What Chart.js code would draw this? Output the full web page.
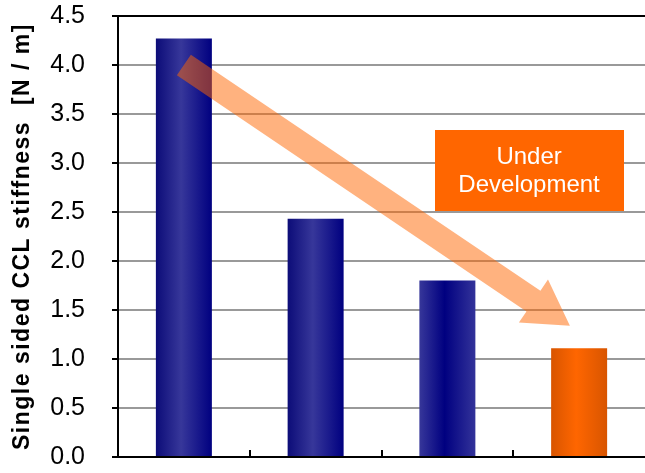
<!DOCTYPE html>
<html>
<head>
<meta charset="utf-8">
<script src="https://cdn.jsdelivr.net/npm/chart.js@4/dist/chart.umd.min.js"></script>
<style>
    html, body { margin: 0; padding: 0; background: #fff; }
    #wrap { width: 645px; height: 473px; }
</style>
</head>
<body>
<div id="wrap"><canvas id="stiffnessChart" width="645" height="473"></canvas></div>
<script>
const categories = ['1', '2', '3', '4'];
const stiffness = [4.27, 2.43, 1.80, 1.11];
const yTicks = [0, 0.5, 1.0, 1.5, 2.0, 2.5, 3.0, 3.5, 4.0, 4.5];
const yTitle = 'Single sided CCL stiffness  [N / m]';
const boxLines = ['Under', 'Development'];

// trend arrow: from (category, value) to (category, value)
const arrowFrom = [0, 4.0];
const arrowTo = [2.93, 1.34];
// label box centre (category, value)
const boxAt = [2.62, 2.92];

// left edge / centre / right edge colours per bar
const barShades = [
    ['#0c0c78', '#37379a', '#000080'],
    ['#0c0c78', '#37379a', '#000080'],
    ['#37379a', '#000080', '#33339a'],
    ['#d85500', '#ff6600', '#d85500']
];

const BAR_FRACTION = 0.425;
const FONT = '"Liberation Sans", Arial, sans-serif';

function barGradient(c) {
    const chart = c.chart;
    const xs = chart.scales && chart.scales.x;
    const s = barShades[c.dataIndex] || barShades[0];
    if (!xs || !chart.chartArea) return s[1];
    const center = xs.getPixelForValue(c.dataIndex);
    const half = (xs.width / categories.length) * BAR_FRACTION / 2;
    const g = chart.ctx.createLinearGradient(center - half, 0, center + half, 0);
    g.addColorStop(0, s[0]);
    g.addColorStop(0.45, s[1]);
    g.addColorStop(1, s[2]);
    return g;
}

const extras = {
    id: 'extras',
    afterDatasetsDraw(chart) {
        const ctx = chart.ctx;
        const x = chart.scales.x, y = chart.scales.y;
        const area = chart.chartArea;

        // inward ticks between categories
        ctx.save();
        ctx.strokeStyle = '#000';
        ctx.lineWidth = 2;
        for (let i = 1; i < categories.length; i++) {
            const px = Math.round(x.getPixelForValue(i - 0.5));
            ctx.beginPath();
            ctx.moveTo(px, area.bottom);
            ctx.lineTo(px, area.bottom - 7);
            ctx.stroke();
        }
        ctx.restore();

        // arrow
        const x0 = x.getPixelForValue(arrowFrom[0]), y0 = y.getPixelForValue(arrowFrom[1]);
        const x1 = x.getPixelForValue(arrowTo[0]), y1 = y.getPixelForValue(arrowTo[1]);
        const len = Math.hypot(x1 - x0, y1 - y0);
        const ux = (x1 - x0) / len, uy = (y1 - y0) / len;
        const px = -uy, py = ux;
        const body = 12.5, head = 26, headLen = 44;
        const bx = x1 - ux * headLen, by = y1 - uy * headLen;
        ctx.save();
        ctx.fillStyle = 'rgba(255,102,0,0.5)';
        ctx.beginPath();
        ctx.moveTo(x0 + px * body, y0 + py * body);
        ctx.lineTo(bx + px * body, by + py * body);
        ctx.lineTo(bx + px * head, by + py * head);
        ctx.lineTo(x1, y1);
        ctx.lineTo(bx - px * head, by - py * head);
        ctx.lineTo(bx - px * body, by - py * body);
        ctx.lineTo(x0 - px * body, y0 - py * body);
        ctx.closePath();
        ctx.fill();
        ctx.restore();

        // label box
        const cx = x.getPixelForValue(boxAt[0]), cy = y.getPixelForValue(boxAt[1]);
        const bw = 189, bh = 81;
        ctx.save();
        ctx.fillStyle = '#ff6600';
        ctx.fillRect(Math.round(cx - bw / 2), Math.round(cy - bh / 2), bw, bh);
        ctx.fillStyle = '#fff';
        ctx.font = '24px ' + FONT;
        ctx.textAlign = 'center';
        ctx.textBaseline = 'middle';
        ctx.fillText(boxLines[0], cx, cy - 13);
        ctx.fillText(boxLines[1], cx, cy + 15);
        ctx.restore();
    },
    afterDraw(chart) {
        const ctx = chart.ctx;
        const area = chart.chartArea;
        ctx.save();
        ctx.translate(23, (area.top + area.bottom) / 2);
        ctx.rotate(-Math.PI / 2);
        ctx.fillStyle = '#000';
        ctx.font = 'bold 23px ' + FONT;
        ctx.letterSpacing = '1.5px';
        ctx.textAlign = 'center';
        ctx.textBaseline = 'middle';
        ctx.fillText(yTitle, 0, 0);
        ctx.restore();
    }
};

new Chart(document.getElementById('stiffnessChart').getContext('2d'), {
    type: 'bar',
    data: {
        labels: categories,
        datasets: [{
            data: stiffness,
            backgroundColor: barGradient,
            borderWidth: 0,
            categoryPercentage: 1,
            barPercentage: BAR_FRACTION
        }]
    },
    options: {
        responsive: false,
        animation: false,
        layout: { padding: { top: 16, right: 0, bottom: 0, left: 0 } },
        plugins: { legend: { display: false }, tooltip: { enabled: false } },
        scales: {
            x: {
                ticks: { display: false },
                grid: { drawOnChartArea: false, drawTicks: false },
                border: { color: '#000', width: 2 },
                afterFit: (s) => { s.height = 16; s.paddingLeft = 0; s.paddingRight = 0; }
            },
            y: {
                min: 0,
                max: 4.5,
                afterBuildTicks: (s) => { s.ticks = yTicks.map((v) => ({ value: v })); },
                ticks: {
                    color: '#000',
                    padding: 27,
                    font: { family: FONT, size: 25 },
                    callback: (v) => Number(v).toFixed(1)
                },
                grid: {
                    color: (c) => (c.tick && c.tick.value === 4.5 ? '#000' : '#999'),
                    lineWidth: 2,
                    tickColor: '#000',
                    tickLength: 6
                },
                border: { color: '#000', width: 2 },
                afterFit: (s) => { s.width = 118; s.paddingTop = 0; s.paddingBottom = 0; }
            }
        }
    },
    plugins: [extras]
});
</script>
</body>
</html>
